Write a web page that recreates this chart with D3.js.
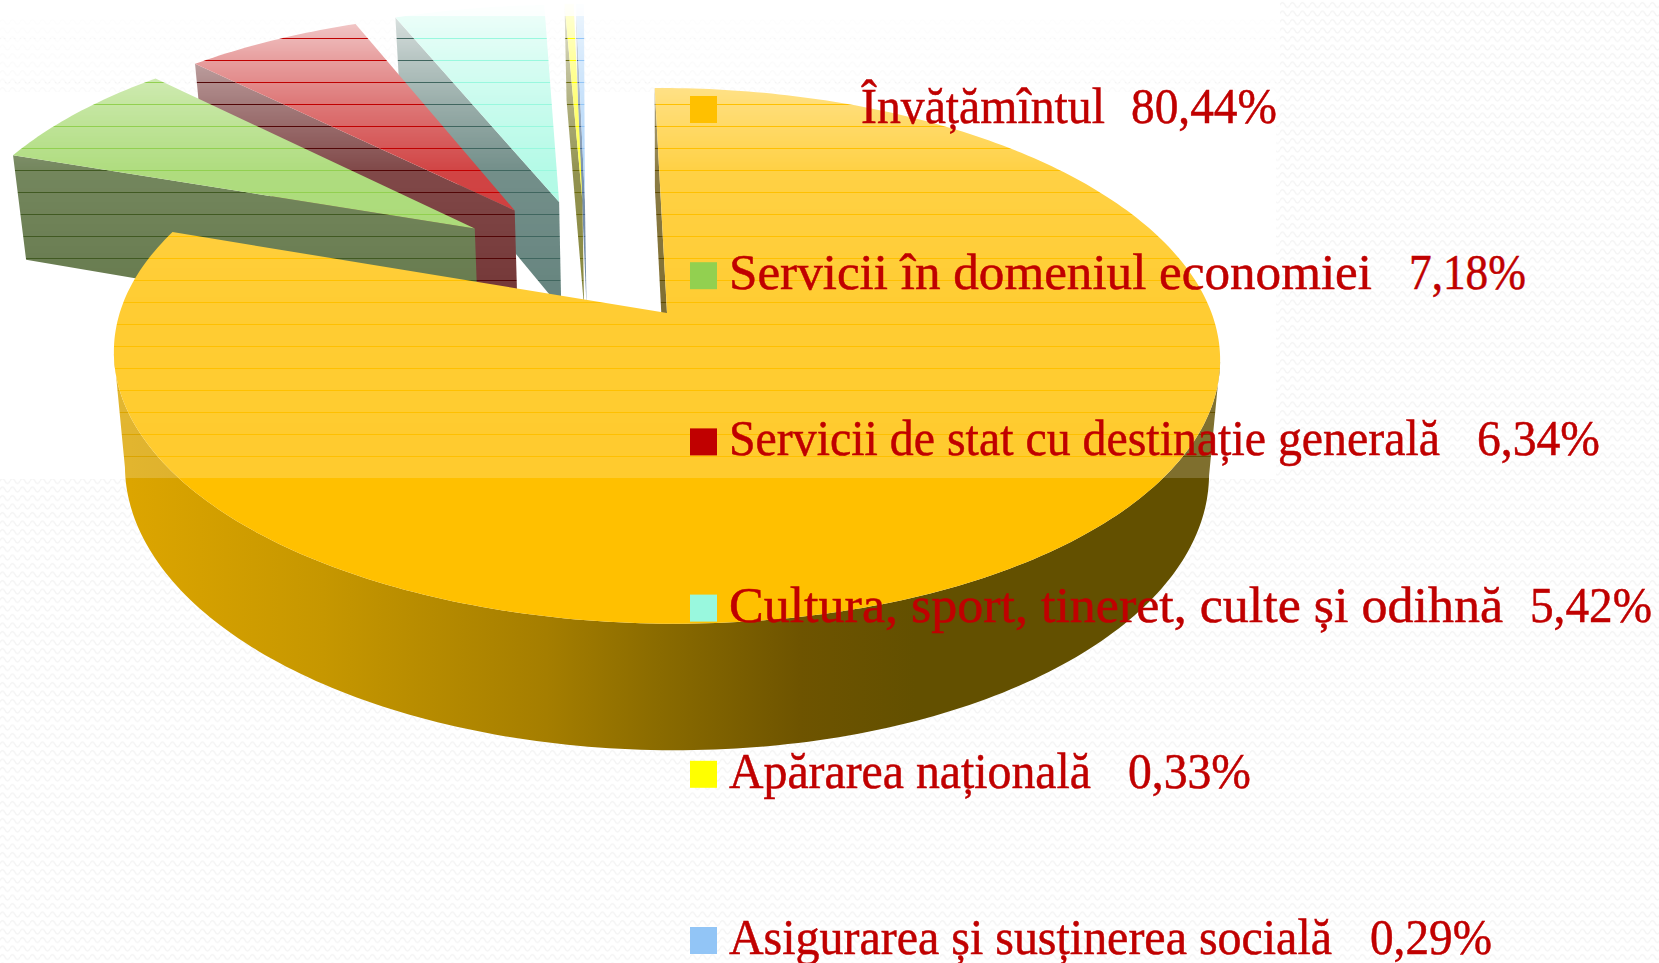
<!DOCTYPE html>
<html>
<head>
<meta charset="utf-8">
<script src="https://cdn.jsdelivr.net/npm/d3@7"></script>
<style>
  html, body { margin: 0; padding: 0; background: #fff; overflow: hidden; }
  svg { display: block; }
  text { font-family: "Liberation Serif", serif; fill: #c00000; stroke: #c00000; stroke-width: 0.5px; font-size: 50px; }
</style>
</head>
<body>
<svg id="chart" width="1659" height="963"></svg>
<script>
const categories = [
  "Învățămîntul",
  "Servicii în domeniul economiei",
  "Servicii de stat cu destinație generală",
  "Cultura, sport, tineret, culte și odihnă",
  "Apărarea națională",
  "Asigurarea și susținerea socială"
];
const shares = [80.44, 7.18, 6.34, 5.42, 0.33, 0.29];
const valueLabels = ["80,44%", "7,18%", "6,34%", "5,42%", "0,33%", "0,29%"];
const topColors = ["#ffc000", "#92d050", "#c00000", "#99f8de", "#ffff00", "#92c5f6"];
const wallColors = ["#614c00", "#415a22", "#520606", "#40665f", "#6b6b10", "#4a6a90"];

// legend placement: label x, label end, value x, value end
const legendLayout = [
  [861, 1105, 1131, 1277],
  [729, 1372, 1409, 1526],
  [729, 1440, 1477, 1600],
  [729, 1503, 1530, 1652],
  [729, 1091, 1128, 1251],
  [729, 1332, 1370, 1492]
];

const width = 1659;
const height = 963;
const svg = d3.select("#chart");
const defs = svg.append("defs");

// faint zigzag paper texture
const tex = defs.append("pattern")
  .attr("id", "paper")
  .attr("patternUnits", "userSpaceOnUse")
  .attr("width", 10)
  .attr("height", 8.5);
tex.append("path")
  .attr("d", "M0 5 Q2.5 0 5 5 T10 5")
  .attr("fill", "none")
  .attr("stroke", "#f4f4f4")
  .attr("stroke-width", 1.4);

svg.append("rect").attr("width", width).attr("height", height).attr("fill", "url(#paper)");
svg.append("rect").attr("x", 0).attr("y", 92).attr("width", 1276).attr("height", 387).attr("fill", "#fff");

// front wall shading
const wallGrad = defs.append("linearGradient")
  .attr("id", "wallGrad")
  .attr("gradientUnits", "userSpaceOnUse")
  .attr("x1", 130).attr("x2", 915).attr("y1", 0).attr("y2", 0);
[[0, "#dca500"], [0.246, "#c69700"], [0.53, "#a57e00"], [0.675, "#8a6b00"], [0.854, "#6e5400"], [1, "#635000"]]
  .forEach(([o, c]) => wallGrad.append("stop").attr("offset", o).attr("stop-color", c));

// pie laid out by d3, then projected onto a tilted plane
const tilt = -1.5 * Math.PI / 180;
const pie = d3.pie().sort(null).startAngle(tilt).endAngle(tilt + 2 * Math.PI);
const arcs = pie(shares);

const explode = 0.255;
const k = 0.16;
const rx = 546;
const ry = 261;
const depth = 112;
const shear = 0.0075;
const vx = 667;
const vy = 313;
const main = arcs[0];
const mainMid = (main.startAngle + main.endAngle) / 2;
const ox = explode * Math.sin(mainMid);
const oz = explode * Math.cos(mainMid);

const offsetOf = (d) => {
  const mid = (d.startAngle + d.endAngle) / 2;
  return [explode * Math.sin(mid) - ox, explode * Math.cos(mid) - oz];
};

const project = (X, Z, lower) => {
  const w = 1 + k * Z;
  const x = vx + (rx * X) / w;
  const y = vy - (ry * Z) / w + shear * (x - vx);
  if (!lower) return [x, y];
  return [vx + (x - vx) * 0.98, y + depth / Math.pow(w, 0.7)];
};

const rimPoint = (d, a, lower) => {
  const [dx, dz] = offsetOf(d);
  return project(dx + Math.sin(a), dz + Math.cos(a), lower);
};
const tipPoint = (d, lower) => {
  const [dx, dz] = offsetOf(d);
  return project(dx, dz, lower);
};
const rimAngles = (d) => {
  const n = Math.max(2, Math.ceil((d.endAngle - d.startAngle) * 60));
  return d3.range(n + 1).map((i) => d.startAngle + ((d.endAngle - d.startAngle) * i) / n);
};
const rim = (d, lower) => rimAngles(d).map((a) => rimPoint(d, a, lower));

const line = d3.line();
const chart = svg.append("g");

// back slices first, the big one last
const order = [5, 4, 3, 2, 1, 0];
order.forEach((i) => {
  const d = arcs[i];
  // cut face on the start edge
  chart.append("path")
    .attr("d", line([
      tipPoint(d, false),
      rimPoint(d, d.startAngle, false),
      rimPoint(d, d.startAngle, true),
      tipPoint(d, true)
    ]) + "Z")
    .attr("fill", wallColors[i]);
  if (i === 0) {
    // outer wall, only the part that faces the viewer
    const front = rimAngles(d).filter((a) => Math.cos(a) <= -k);
    const top = front.map((a) => rimPoint(d, a, false));
    const low = front.map((a) => rimPoint(d, a, true)).reverse();
    chart.append("path")
      .attr("d", line(top.concat(low)) + "Z")
      .attr("fill", "url(#wallGrad)");
  }
  chart.append("path")
    .attr("d", line([tipPoint(d, false)].concat(rim(d, false))) + "Z")
    .attr("fill", topColors[i]);
});

// glossy white veil with thin ruled gaps, strong at the top
const veil = d3.scaleLinear()
  .domain([0, 15, 16, 60, 100, 170, 300, 479])
  .range([0.98, 0.96, 0.8, 0.62, 0.48, 0.27, 0.2, 0.18]);
const ruleY = d3.range(16, 480, 22);
const overlay = svg.append("g");
ruleY.forEach((y, i) => {
  const next = i + 1 < ruleY.length ? ruleY[i + 1] : 479;
  const y0 = i === 0 ? 0 : y + 1;
  d3.range(y0, next).forEach((row) => {
    overlay.append("rect")
      .attr("x", 0).attr("y", row)
      .attr("width", 1280).attr("height", 1)
      .attr("fill", "#fff")
      .attr("fill-opacity", veil(row));
  });
});

// legend
const legend = svg.append("g");
const squareY = d3.scaleLinear().domain([0, 5]).range([96, 927]);
categories.forEach((name, i) => {
  const [lx0, lx1, vx0, vx1] = legendLayout[i];
  const top = squareY(i);
  legend.append("rect")
    .attr("x", 690).attr("y", top)
    .attr("width", 27).attr("height", 27)
    .attr("fill", topColors[i]);
  legend.append("text")
    .attr("x", lx0).attr("y", top + 27)
    .attr("textLength", lx1 - lx0)
    .attr("lengthAdjust", "spacingAndGlyphs")
    .text(name);
  legend.append("text")
    .attr("x", vx0).attr("y", top + 27)
    .attr("textLength", vx1 - vx0)
    .attr("lengthAdjust", "spacingAndGlyphs")
    .text(valueLabels[i]);
});
</script>
</body>
</html>
